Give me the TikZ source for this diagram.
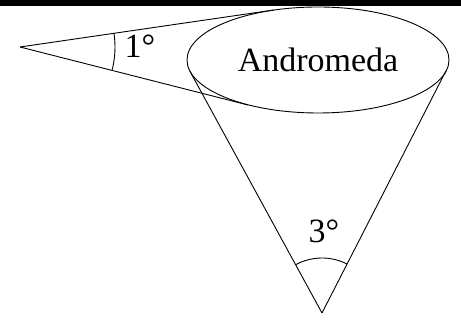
\documentclass[tikz,border=0pt]{standalone}
\usepackage{fontspec}
\setmainfont{Liberation Serif}
\usetikzlibrary{shapes.geometric,angles,calc}
\begin{document}
\begin{tikzpicture}[x=1pt,y=1pt,
  stroke/.style={line width=0.9pt,black},
  lbl/.style={font=\fontsize{34}{34}\selectfont,inner sep=0pt},
  arcmark/.style={draw,line width=0.9pt}]
\useasboundingbox (0,0) rectangle (461,320);
% black bar on top
\fill[black] (0,314) rectangle (461,320);
% galaxy
\node[ellipse,draw,stroke,minimum width=262pt,minimum height=106pt,inner sep=0pt,
      font=\fontsize{34}{34}\selectfont] (gal) at (318,260) {Andromeda};
% apexes and tangent points
\coordinate (A) at (20,273);
\coordinate (B) at (322,7);
\coordinate (Tup) at (274,310);
\coordinate (Tlow) at (248,215);
\coordinate (Tl) at (190,248.6);
\coordinate (Tr) at (446,249.2);
% lines of sight
\draw[stroke] (A) -- (Tup);
\draw[stroke] (A) -- (Tlow);
\draw[stroke] (B) -- (Tl);
\draw[stroke] (B) -- (Tr);
% angle marks
\pic[arcmark,angle radius=95pt] {angle=Tlow--A--Tup};
\pic[arcmark,angle radius=55pt] {angle=Tr--B--Tl};
% labels
\node[lbl,anchor=base] (one) at (140,262) {1°};
\node[lbl,anchor=base] (three) at (324,77) {3°};
\end{tikzpicture}
\end{document}
